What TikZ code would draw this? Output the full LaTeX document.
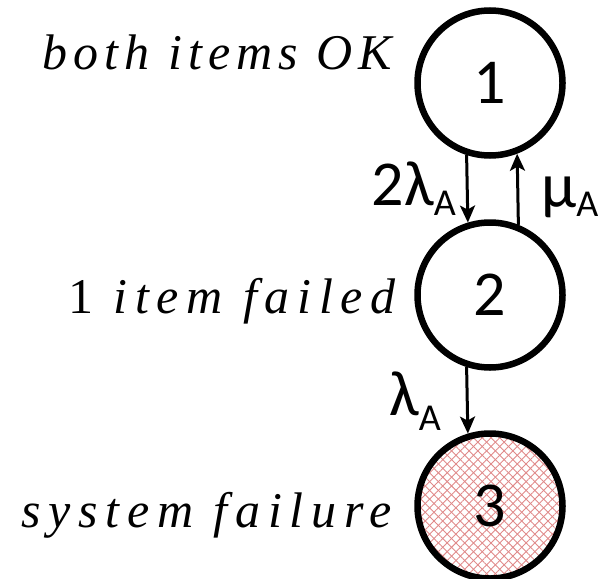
\documentclass[tikz,border=0pt]{standalone}
\usepackage{fontspec}
\setmainfont{Liberation Serif}
\newfontfamily\sansf{Carlito}
\newfontfamily\lblfont[LetterSpace=12]{Liberation Serif}
\newfontfamily\lblfontw[LetterSpace=15.5]{Liberation Serif}
\usetikzlibrary{arrows.meta,patterns.meta}
\definecolor{hatch}{RGB}{224,138,138}
\begin{document}
\begin{tikzpicture}[x=1pt,y=-1pt,
  state/.style={draw=black,line width=6.5pt,circle,minimum size=145pt,inner sep=0pt,
     font=\sansf\fontsize{64}{64}\selectfont},
  failstate/.style={state,path picture={
     \fill[pattern={Lines[angle=45,distance=6.2pt,line width=0.9pt]},pattern color=hatch]
        (path picture bounding box.south west) rectangle (path picture bounding box.north east);
     \fill[pattern={Lines[angle=-45,distance=6.2pt,line width=0.9pt]},pattern color=hatch]
        (path picture bounding box.south west) rectangle (path picture bounding box.north east);}},
  trans/.style={line width=3pt,-{Stealth[length=17pt,width=15pt,inset=4pt]}},
  rate/.style={font=\sansf\fontsize{64}{64}\selectfont,inner sep=0pt},
  desc/.style={font=\lblfont\fontsize{50}{50}\selectfont,inner sep=0pt},
  descw/.style={font=\lblfontw\fontsize{50}{50}\selectfont,inner sep=0pt}
]
\useasboundingbox (0,0) rectangle (601,578);
\node[state] (c1) at (490,83) {1};
\node[state] (c2) at (490,295) {2};
\node[failstate] (c3) at (490,506) {3};

\draw[trans] (c1.252.3) -- (c2.107.7);
\draw[trans] (c2.68.1) -- (c1.291.9);
\draw[trans] (c2.252.3) -- (c3.107.7);

\node[rate,anchor=base east] (r12) at (456,205) {2λ\raisebox{-10pt}{\fontsize{38}{38}\selectfont A}};
\node[rate,anchor=base west] (r21) at (541,207) {μ\raisebox{-9pt}{\fontsize{38}{38}\selectfont A}};
\node[rate,anchor=base west] (r23) at (389,415) {λ\raisebox{-15pt}{\fontsize{38}{38}\selectfont A}};

\node[desc,anchor=base east] (d1) at (392,69) {\itshape both items OK};
\node[descw,anchor=base east] (d2) at (396,313) {1 \itshape item failed};
\node[descw,anchor=base east] (d3) at (392,527) {\itshape system failure};
\end{tikzpicture}
\end{document}
